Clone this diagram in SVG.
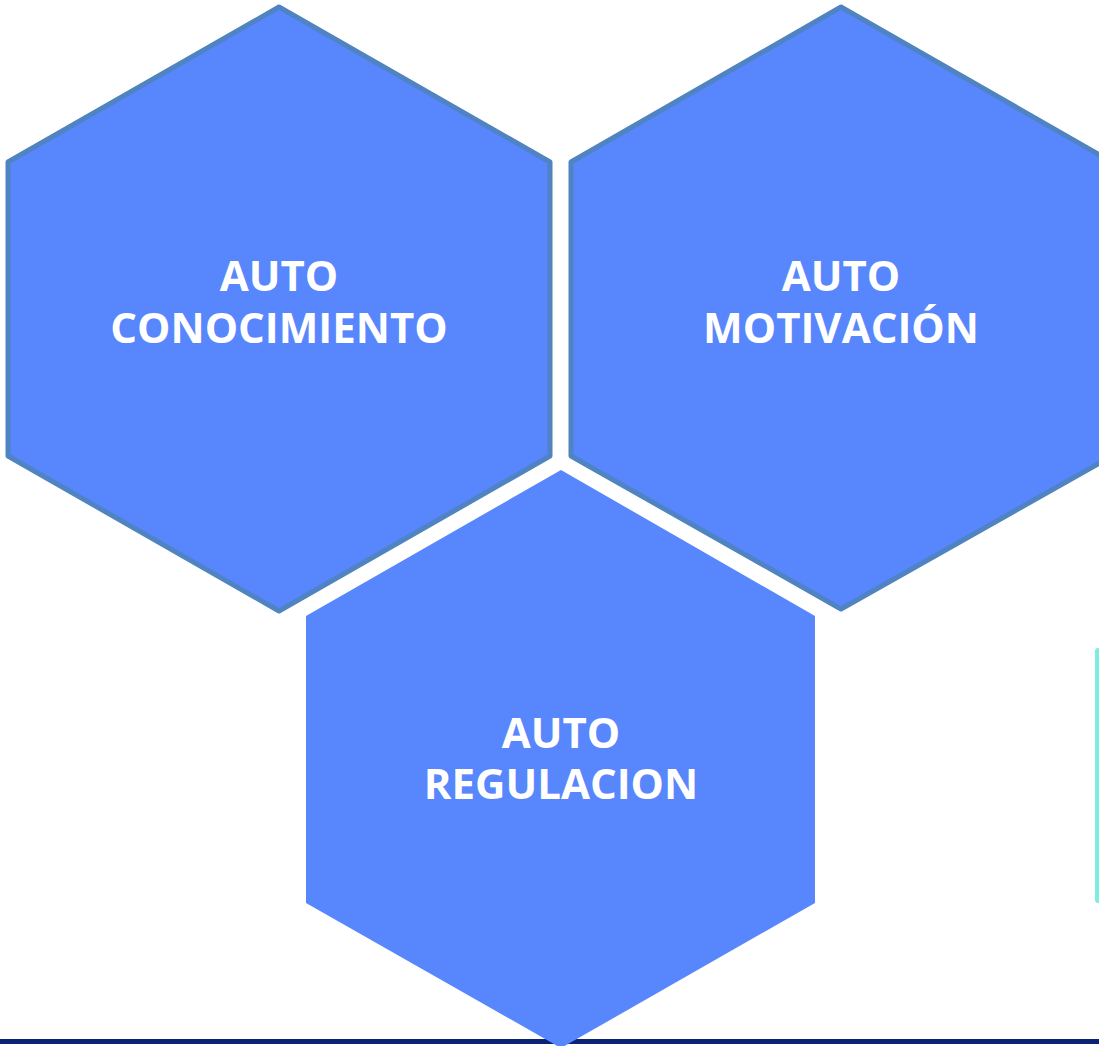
<svg xmlns="http://www.w3.org/2000/svg" width="1099" height="1046" viewBox="0 0 1099 1046">
<style>
.hex{fill:#5886FC;stroke:#4F83C2;stroke-width:5;stroke-linejoin:round}
.hex3{fill:#5886FC}
.lbl{font-family:"Open Sans","Liberation Sans",sans-serif;font-weight:bold;font-size:42px;fill:#FFFFFF;text-anchor:middle}
</style>
<rect width="1099" height="1046" fill="#FFFFFF"/>
<rect x="0" y="1039" width="1099" height="5" fill="#0B2372"/>
<rect x="1095" y="648" width="20" height="255" rx="3" fill="#7DEDE2"/>
<g id="node-autoconocimiento">
<polygon class="hex" points="279,7 550,162 550,456 279,611 8,456 8,162"/>
<text class="lbl" x="279" y="291">AUTO</text>
<text class="lbl" x="279" y="343">CONOCIMIENTO</text>
</g>
<g id="node-automotivacion">
<polygon class="hex" points="841,7 1112,162 1112,456 841,609 571,456 571,162"/>
<text class="lbl" x="841" y="291">AUTO</text>
<text class="lbl" x="841" y="343">MOTIVACIÓN</text>
</g>
<g id="node-autoregulacion">
<polygon class="hex3" points="561,470 815,616 815,903 561,1048 306,903 306,616"/>
<text class="lbl" x="561" y="748">AUTO</text>
<text class="lbl" x="561" y="799">REGULACION</text>
</g>
<g id="connectors"></g>
</svg>
